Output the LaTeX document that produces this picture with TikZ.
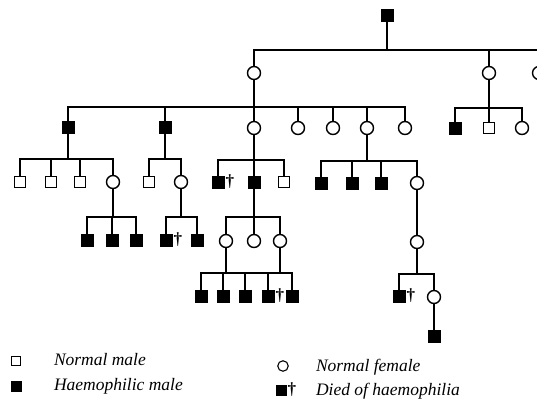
\documentclass[tikz,border=0pt]{standalone}
\usepackage{fontspec}
\setmainfont{Liberation Serif}
\begin{document}
\begin{tikzpicture}[x=1pt,y=-1pt,
  every node/.style={inner sep=0pt, outer sep=0pt},
  nm/.style={draw, line width=1.3pt, minimum size=10.5pt, fill=white},
  hm/.style={draw, fill=black, line width=0.5pt, minimum size=12pt},
  nf/.style={circle, draw, line width=1.4pt, minimum size=13pt},
  dag/.style={font=\fontsize{17}{17}\selectfont\bfseries, anchor=west},
  lk/.style={line width=1.5pt},
  lgd/.style={font=\fontsize{17.5}{17.5}\selectfont\itshape, anchor=base west}]
\useasboundingbox (0,0) rectangle (537,401);
\clip (0,0) rectangle (537,401);
% generation I
\node[hm] (g1) at (387,15) {};
\coordinate (r1) at (0,50);
% generation II
\node[nf] (a) at (254,73) {};
\node[nf] (b) at (489,73) {};
\node[nf] (c) at (539,73) {};
\draw[lk] (g1.south) -- (g1 |- r1);
\draw[lk] (a.north) -- (a |- r1) -- (c |- r1) -- (c.north);
\draw[lk] (b.north) -- (b |- r1);
% generation III under a
\coordinate (r2) at (0,107);
\node[hm] (a1) at (68,127) {};
\node[hm] (a2) at (165,127) {};
\node[nf] (a3) at (254,128) {};
\node[nf] (a4) at (298,128) {};
\node[nf] (a5) at (333,128) {};
\node[nf] (a6) at (367,128) {};
\node[nf] (a7) at (405,128) {};
\draw[lk] (a.south) -- (a |- r2);
\draw[lk] (a1.north) -- (a1 |- r2) -- (a7 |- r2) -- (a7.north);
\foreach \n in {a2,a3,a4,a5,a6} \draw[lk] (\n.north) -- (\n |- r2);
% generation III under b
\coordinate (r3) at (0,108);
\node[hm] (b1) at (455,128) {};
\node[nm] (b2) at (489,128) {};
\node[nf] (b3) at (522,128) {};
\draw[lk] (b.south) -- (b |- r3);
\draw[lk] (b1.north) -- (b1 |- r3) -- (b3 |- r3) -- (b3.north);
\draw[lk] (b2.north) -- (b2 |- r3);
% generation IV
\coordinate (r4) at (0,159);
\coordinate (r5) at (0,160);
\coordinate (r6) at (0,161);
\node[nm] (c1) at (20,182) {};
\node[nm] (c2) at (51,182) {};
\node[nm] (c3) at (80,182) {};
\node[nf] (c4) at (113,182) {};
\draw[lk] (a1.south) -- (a1 |- r4);
\draw[lk] (c1.north) -- (c1 |- r4) -- (c4 |- r4) -- (c4.north);
\foreach \n in {c2,c3} \draw[lk] (\n.north) -- (\n |- r4);
\node[nm] (c5) at (149,182) {};
\node[nf] (c6) at (181,182) {};
\draw[lk] (a2.south) -- (a2 |- r4);
\draw[lk] (c5.north) -- (c5 |- r4) -- (c6 |- r4) -- (c6.north);
\node[hm] (c7) at (218,182) {};
\node[dag] (c7d) at ([xshift=1.5pt]c7.east) {\textdagger};
\node[hm] (c8) at (254,182) {};
\node[nm] (c9) at (284,182) {};
\draw[lk] (a3.south) -- (a3 |- r5);
\draw[lk] (c7.north) -- (c7 |- r5) -- (c9 |- r5) -- (c9.north);
\draw[lk] (c8.north) -- (c8 |- r5);
\node[hm] (c10) at (321,183) {};
\node[hm] (c11) at (352,183) {};
\node[hm] (c12) at (381,183) {};
\node[nf] (c13) at (417,183) {};
\draw[lk] (a6.south) -- (a6 |- r6);
\draw[lk] (c10.north) -- (c10 |- r6) -- (c13 |- r6) -- (c13.north);
\foreach \n in {c11,c12} \draw[lk] (\n.north) -- (\n |- r6);
% generation V
\coordinate (r7) at (0,217);
\node[hm] (d1) at (87,240) {};
\node[hm] (d2) at (112,240) {};
\node[hm] (d3) at (136,240) {};
\draw[lk] (c4.south) -- (c4 |- r7);
\draw[lk] (d1.north) -- (d1 |- r7) -- (d3 |- r7) -- (d3.north);
\draw[lk] (d2.north) -- (d2 |- r7);
\node[hm] (d4) at (166,240) {};
\node[dag] (d4d) at ([xshift=1.5pt]d4.east) {\textdagger};
\node[hm] (d5) at (197,240) {};
\draw[lk] (c6.south) -- (c6 |- r7);
\draw[lk] (d4.north) -- (d4 |- r7) -- (d5 |- r7) -- (d5.north);
\node[nf] (d6) at (226,241) {};
\node[nf] (d7) at (254,241) {};
\node[nf] (d8) at (280,241) {};
\draw[lk] (c8.south) -- (c8 |- r7);
\draw[lk] (d6.north) -- (d6 |- r7) -- (d8 |- r7) -- (d8.north);
\draw[lk] (d7.north) -- (d7 |- r7);
\node[nf] (d9) at (417,242) {};
\draw[lk] (c13.south) -- (d9.north);
% generation VI
\coordinate (r8) at (0,273);
\coordinate (r9) at (0,274);
\node[hm] (e1) at (201,296) {};
\node[hm] (e2) at (223,296) {};
\node[hm] (e3) at (245,296) {};
\node[hm] (e4) at (268,296) {};
\node[dag] (e4d) at ([xshift=1.5pt]e4.east) {\textdagger};
\node[hm] (e5) at (292,296) {};
\draw[lk] (d6.south) -- (d6 |- r8);
\draw[lk] (d8.south) -- (d8 |- r8);
\draw[lk] (e1.north) -- (e1 |- r8) -- (e5 |- r8) -- (e5.north);
\foreach \n in {e2,e3,e4} \draw[lk] (\n.north) -- (\n |- r8);
\node[hm] (e6) at (399,296) {};
\node[dag] (e6d) at ([xshift=1.5pt]e6.east) {\textdagger};
\node[nf] (e7) at (434,297) {};
\draw[lk] (d9.south) -- (d9 |- r9);
\draw[lk] (e6.north) -- (e6 |- r9) -- (e7 |- r9) -- (e7.north);
% generation VII
\node[hm] (f1) at (434,336) {};
\draw[lk] (e7.south) -- (f1.north);
% legend
\node[nm, minimum size=9pt, line width=1.1pt] (L1) at (16,361) {};
\node[lgd] (L1t) at (54,365) {Normal male};
\node[hm, minimum size=10pt] (L2) at (16,386) {};
\node[lgd] (L2t) at (54,390) {Haemophilic male};
\node[nf, minimum size=10.5pt, line width=1.1pt] (L3) at (283,366) {};
\node[lgd] (L3t) at (316,371) {Normal female};
\node[hm, minimum size=10pt] (L4) at (281,390) {};
\node[dag] (L4d) at ([xshift=1.5pt]L4.east) {\textdagger};
\node[lgd] (L4t) at (316,395) {Died of haemophilia};
\end{tikzpicture}
\end{document}
